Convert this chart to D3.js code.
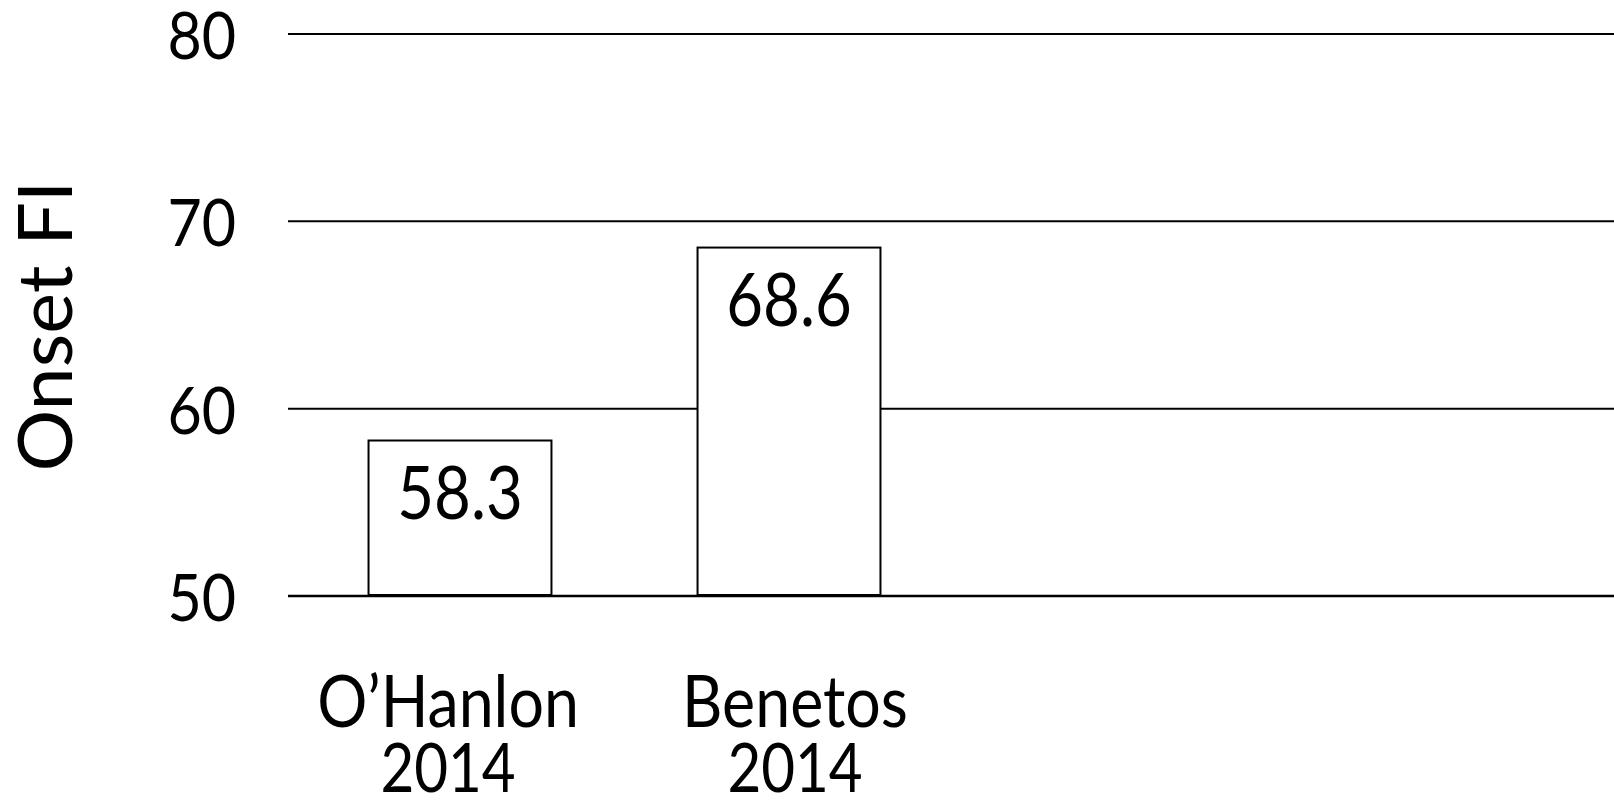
<!DOCTYPE html>
<html>
<head>
<meta charset="utf-8">
<script src="https://cdn.jsdelivr.net/npm/d3@7"></script>
<style>
  html, body { margin: 0; padding: 0; background: #fff; }
  svg { display: block; }
  text { font-family: "Lato", "Open Sans", sans-serif; fill: #000; }
</style>
</head>
<body>
<svg id="chart" width="1614" height="801"></svg>
<script>
// Onset FI by study
const studies = ["O\u2019Hanlon", "Benetos"];
const years = ["2014", "2014"];
const onsetFI = [58.3, 68.6];
const yTicks = [50, 60, 70, 80];

const W = 1614, H = 801;
const svg = d3.select("#chart");

// Lato set slightly narrowed to give a humanist, Gill-like text proportion
const NARROW = 0.87;

const y = d3.scaleLinear().domain([50, 80]).range([596, 34]);
const x = d3.scaleBand()
  .domain(studies)
  .range([295.5, 953.5])
  .paddingInner(0.444)
  .paddingOuter(0.222);
// category captions sit on their own, slightly wider spacing
const xLabel = d3.scalePoint().domain(studies).range([448, 795]);

// horizontal gridlines
svg.append("g")
  .selectAll("line")
  .data(yTicks)
  .join("line")
  .attr("x1", 288)
  .attr("x2", W)
  .attr("y1", d => y(d))
  .attr("y2", d => y(d))
  .attr("stroke", "#000")
  .attr("stroke-width", d => d === 50 ? 2.5 : 2);

// tick labels
svg.append("g")
  .selectAll("text")
  .data(yTicks)
  .join("text")
  .attr("transform", d => `translate(236,${y(d) + 25}) scale(0.91,1)`)
  .attr("text-anchor", "end")
  .attr("font-size", 65)
  .text(d => d);

// bars
const rows = studies.map((s, i) => ({ study: s, year: years[i], value: onsetFI[i] }));

svg.append("g")
  .selectAll("rect")
  .data(rows)
  .join("rect")
  .attr("x", d => x(d.study))
  .attr("y", d => y(d.value))
  .attr("width", x.bandwidth())
  .attr("height", d => y(50) - 1 - y(d.value))
  .attr("fill", "#fff")
  .attr("stroke", "#000")
  .attr("stroke-width", 2);

// value labels inside bars
svg.append("g")
  .selectAll("text")
  .data(rows)
  .join("text")
  .attr("transform", d => `translate(${x(d.study) + x.bandwidth() / 2},${y(d.value) + 78}) scale(${NARROW},1)`)
  .attr("text-anchor", "middle")
  .attr("font-size", 73)
  .text(d => d.value.toFixed(1));

// category labels: study name over year, one two-line text each
const cat = svg.append("g")
  .selectAll("text")
  .data(rows)
  .join("text")
  .attr("transform", d => `translate(${xLabel(d.study)},0) scale(${NARROW},1)`)
  .attr("text-anchor", "middle");
cat.append("tspan")
  .attr("x", 0)
  .attr("y", 727)
  .attr("font-size", 72)
  .text(d => d.study);
cat.append("tspan")
  .attr("x", 0)
  .attr("y", 792)
  .attr("font-size", 67)
  .text(d => d.year);

// y-axis title
svg.append("text")
  .attr("transform", "translate(72,326) rotate(-90) scale(1.03,1)")
  .attr("text-anchor", "middle")
  .attr("font-size", 75)
  .text("Onset FI");
</script>
</body>
</html>
